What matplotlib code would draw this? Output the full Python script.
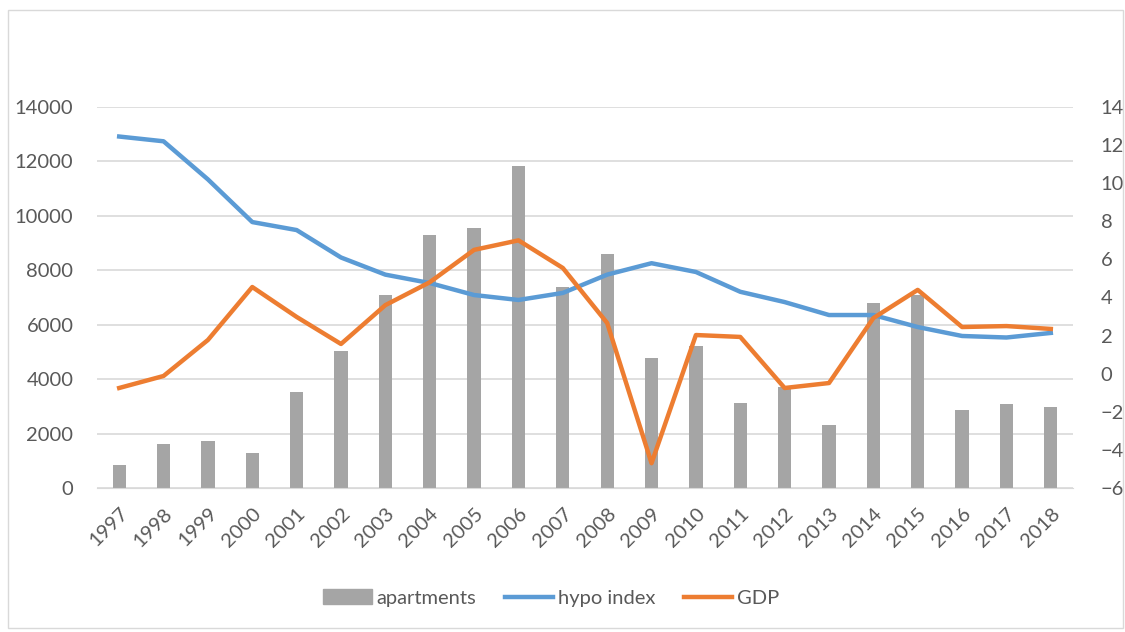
import matplotlib
matplotlib.use("Agg")
import matplotlib.pyplot as plt
from matplotlib.patches import Rectangle
from matplotlib.lines import Line2D
from matplotlib.patches import Patch
import numpy as np

years = [str(y) for y in range(1997, 2019)]
apartments = [850, 1620, 1730, 1290, 3530, 5040, 7100, 9280, 9560, 11850, 7390, 8600,
              4780, 5220, 3120, 3710, 2320, 6800, 7100, 2870, 3090, 2980]
hypo_index = [12.45, 12.2, 10.2, 7.96, 7.54, 6.1, 5.2, 4.76, 4.13, 3.87, 4.24, 5.2,
              5.8, 5.34, 4.3, 3.76, 3.08, 3.08, 2.45, 1.98, 1.9, 2.14]
gdp = [-0.75, -0.12, 1.77, 4.55, 2.98, 1.56, 3.6, 4.8, 6.5, 7.0, 5.55, 2.66,
       -4.7, 2.03, 1.93, -0.75, -0.49, 2.92, 4.4, 2.45, 2.5, 2.35]

left_ticks = list(range(0, 14001, 2000))
right_ticks = list(range(-6, 15, 2))

text_col = '#595959'
plt.rcParams['font.family'] = ['Lato', 'DejaVu Sans']

fig = plt.figure(figsize=(11.25, 6.32), dpi=100)
ax = fig.add_axes([97 / 1125, 1 - 488 / 632, (1073 - 97) / 1125, (488 - 107) / 632])
x = np.arange(len(years))

ax.bar(x, apartments, width=0.3, color='#a5a5a5', zorder=2)
ax.set_ylim(0, 14000)
ax.set_yticks(left_ticks)
ax.set_xlim(-0.5, len(years) - 0.5)
ax.set_xticks(x)
ax.set_xticklabels(years, rotation=45, ha='right', rotation_mode='anchor')
ax.grid(axis='y', color='#d9d9d9', linewidth=1.2, zorder=0)
ax.set_axisbelow(True)
for s in ['top', 'right', 'left']:
    ax.spines[s].set_visible(False)
ax.spines['bottom'].set_color('#d9d9d9')
ax.tick_params(axis='y', length=0, labelsize=14.5, colors=text_col, pad=17)
ax.tick_params(axis='x', length=0, labelsize=14.5, colors=text_col, pad=12)

ax2 = ax.twinx()
ax2.plot(x, hypo_index, color='#5b9bd5', linewidth=3.2, zorder=3)
ax2.plot(x, gdp, color='#ed7d31', linewidth=3.2, zorder=4)
ax2.set_ylim(-6, 14)
ax2.set_yticks(right_ticks)
for s in ax2.spines.values():
    s.set_visible(False)
ax2.tick_params(axis='y', length=0, labelsize=14.5, colors=text_col, pad=20)

handles = [Patch(color='#a5a5a5'),
           Line2D([0], [0], color='#5b9bd5', linewidth=3.2),
           Line2D([0], [0], color='#ed7d31', linewidth=3.2)]
fig.legend(handles, ['apartments', 'hypo index', 'GDP'], loc='center',
           bbox_to_anchor=(0.49, 1 - 598 / 632), ncol=3, frameon=False,
           fontsize=14.5, labelcolor=text_col, handlelength=2.4,
           handletextpad=0.25, columnspacing=1.4)

fig.patches.append(Rectangle((8 / 1125, 4 / 632), 1 - 10 / 1125, 1 - 14 / 632,
                             transform=fig.transFigure, fill=False,
                             edgecolor='#d9d9d9', linewidth=1))

fig.savefig('out.png', dpi=100)
